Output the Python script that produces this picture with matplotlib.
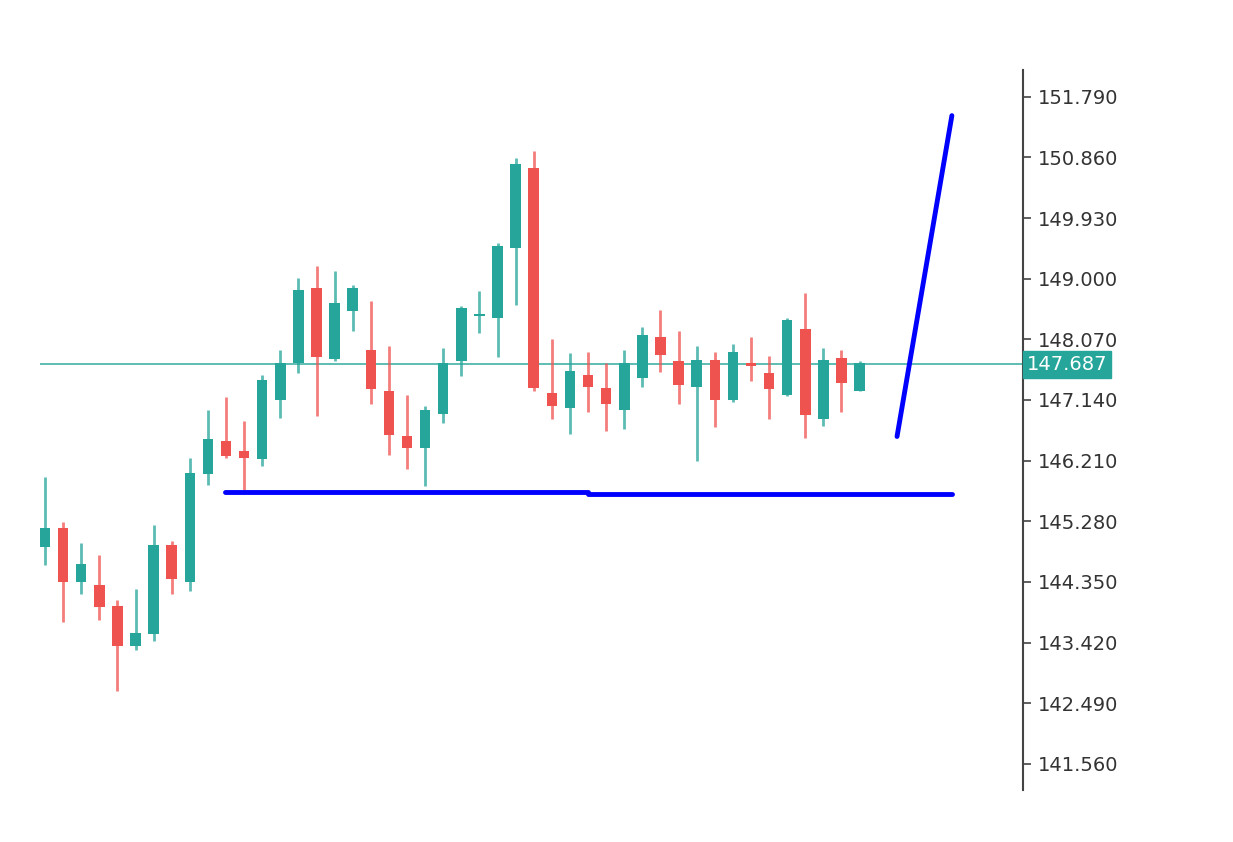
import matplotlib
matplotlib.use('Agg')
import matplotlib.pyplot as plt
import numpy as np

# candle values (open, high, low, close)
opens = [144.89, 145.18, 144.35, 144.31, 143.98, 143.36, 143.55, 144.92, 144.35, 146.01,
         146.51, 146.35, 146.24, 147.14, 147.71, 148.85, 147.77, 148.51, 147.91, 147.27,
         146.58, 146.41, 146.93, 147.74, 148.43, 148.39, 149.47, 150.70, 147.24, 147.02,
         147.53, 147.33, 146.99, 147.47, 148.11, 147.74, 147.34, 147.76, 147.14, 147.70,
         147.56, 147.22, 148.23, 146.85, 147.79, 147.28]
highs = [145.96, 145.27, 144.95, 144.77, 144.08, 144.24, 145.23, 144.97, 146.25, 146.99,
         147.19, 146.81, 147.53, 147.91, 149.01, 149.20, 149.11, 148.91, 148.66, 147.97,
         147.22, 147.05, 147.94, 148.58, 148.81, 149.54, 150.85, 150.95, 148.08, 147.86,
         147.88, 147.71, 147.91, 148.26, 148.52, 148.19, 147.97, 147.88, 148.00, 148.11,
         147.82, 148.40, 148.78, 147.94, 147.91, 147.73]
lows = [144.61, 143.74, 144.17, 143.77, 142.67, 143.31, 143.45, 144.17, 144.21, 145.84,
        146.25, 145.76, 146.13, 146.87, 147.56, 146.90, 147.73, 148.19, 147.08, 146.30,
        146.08, 145.82, 146.79, 147.51, 148.17, 147.80, 148.60, 147.27, 146.85, 146.62,
        146.96, 146.67, 146.70, 147.34, 147.57, 147.08, 146.21, 146.73, 147.11, 147.43,
        146.85, 147.20, 146.56, 146.74, 146.96, 147.27]
closes = [145.18, 144.35, 144.63, 143.97, 143.36, 143.57, 144.92, 144.40, 146.02, 146.54,
          146.28, 146.25, 147.45, 147.71, 148.83, 147.80, 148.62, 148.85, 147.31, 146.61,
          146.41, 146.99, 147.71, 148.55, 148.46, 149.50, 150.76, 147.33, 147.05, 147.59,
          147.34, 147.08, 147.70, 148.14, 147.83, 147.37, 147.76, 147.14, 147.88, 147.66,
          147.31, 148.37, 146.91, 147.76, 147.40, 147.71]

last_price = 147.687
yticks = [151.79, 150.86, 149.93, 149.00, 148.07, 147.14, 146.21, 145.28, 144.35, 143.42, 142.49, 141.56]

# hand drawn blue lines (bar index, price)
support_x = [9.94, 30.0, 30.0, 50.1]
support_y = [145.73, 145.73, 145.70, 145.70]
arrow_x = [47.07, 50.1]
arrow_y = [146.58, 151.50]

up_col = "#26a69a"
dn_col = "#ef5350"

fig = plt.figure(figsize=(12.33, 8.42), dpi=100)
ax = fig.add_axes([0.0324, 0.0618, 0.7973, 0.8551])

for i in range(len(opens)):
    o, h, l, c = opens[i], highs[i], lows[i], closes[i]
    col = up_col if c >= o else dn_col
    ax.vlines(i, l, h, color=col, lw=2, alpha=0.75, zorder=2)
    lo, hi = min(o, c), max(o, c)
    ax.bar(i, max(hi - lo, 0.03), bottom=lo, width=0.58, color=col, zorder=3)

ax.axhline(last_price, color=up_col, lw=1.3, alpha=0.8, zorder=1)
ax.plot(support_x, support_y, color="#0000ff", lw=3.5, solid_capstyle="round", zorder=4)
ax.plot(arrow_x, arrow_y, color="#0000ff", lw=3.5, solid_capstyle="round", zorder=4)

ax.set_xlim(-0.28, 54.03)
ax.set_ylim(141.16, 152.20)

for s in ["left", "top", "bottom"]:
    ax.spines[s].set_visible(False)
ax.spines["right"].set_color("#444444")
ax.spines["right"].set_linewidth(1.5)
ax.set_xticks([])
ax.yaxis.tick_right()
ax.set_yticks(yticks)
ax.set_yticklabels(["%.3f" % v for v in yticks])
ax.tick_params(axis="y", labelsize=14, colors="#444444", length=6, width=1.2, pad=5)
for t in ax.get_yticklabels():
    t.set_color("#333333")

ax.text(1.004, (last_price - 141.16) / (152.20 - 141.16), "%.3f" % last_price,
        transform=ax.transAxes, ha="left", va="center", fontsize=14, color="white",
        bbox=dict(boxstyle="square,pad=0.2", fc=up_col, ec=up_col))

plt.savefig("out.png")
